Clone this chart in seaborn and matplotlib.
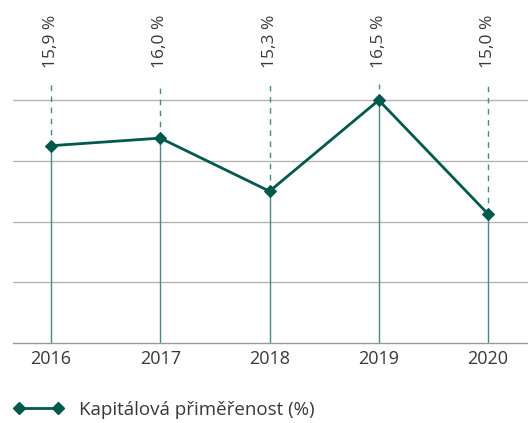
import matplotlib
matplotlib.use("Agg")
import matplotlib.pyplot as plt
import seaborn as sns
import pandas as pd
from matplotlib.lines import Line2D

years = ["2016", "2017", "2018", "2019", "2020"]
values = [15.9, 16.0, 15.3, 16.5, 15.0]
value_labels = ["15,9 %", "16,0 %", "15,3 %", "16,5 %", "15,0 %"]
grid_levels = [16.5, 15.7, 14.9, 14.1]
series_name = "Kapitálová přiměřenost (%)"

sns.set_theme(style="white")
plt.rcParams['font.family'] = ['Open Sans', 'DejaVu Sans']

LINE = "#00594c"
VLINE = "#4c8985"
GRID = "#b4b4b4"
TEXT = "#383838"

fig = plt.figure(figsize=(5.28, 4.23), dpi=100)
ax = fig.add_axes([13/528, 80/423, 515/528, 343/423])

df = pd.DataFrame({"x": range(len(years)), "y": values})

ymin, ymax = 13.3, 17.82
ax.set_ylim(ymin, ymax)
ax.set_xlim(-0.348, 4.366)

for g in grid_levels:
    ax.axhline(g, color=GRID, lw=1, zorder=0)

for i, v in enumerate(values):
    ax.plot([i, i], [ymin, v], color=VLINE, lw=1, zorder=1)
    ax.plot([i, i], [v, 16.71], color=VLINE, lw=1, ls=(0, (4, 4)), zorder=1)
    ax.text(i, 16.93, value_labels[i], rotation=90, ha="center", va="bottom",
            fontsize=12.5, color=TEXT)

sns.lineplot(data=df, x="x", y="y", ax=ax, color=LINE, lw=2, marker="D",
             markersize=6, markeredgecolor=LINE, legend=False, zorder=3)

for s in ["top", "right", "left"]:
    ax.spines[s].set_visible(False)
ax.spines["bottom"].set_color("#999999")
ax.spines["bottom"].set_linewidth(1)
ax.set_yticks([])
ax.set_xticks(range(len(years)))
ax.set_xticklabels(years, fontsize=13, color=TEXT)
ax.tick_params(axis="x", length=0, pad=5)
ax.set_xlabel("")
ax.set_ylabel("")

handle = Line2D([], [], color=LINE, lw=2, marker="D", markersize=6)
fig.legend([handle], [series_name], loc="center left", bbox_to_anchor=(0.0, 13/423),
           frameon=False, numpoints=2, handlelength=2.7, handletextpad=0.8,
           fontsize=13.5, labelcolor=TEXT, borderaxespad=0.3)

fig.savefig("out.png", dpi=100)
